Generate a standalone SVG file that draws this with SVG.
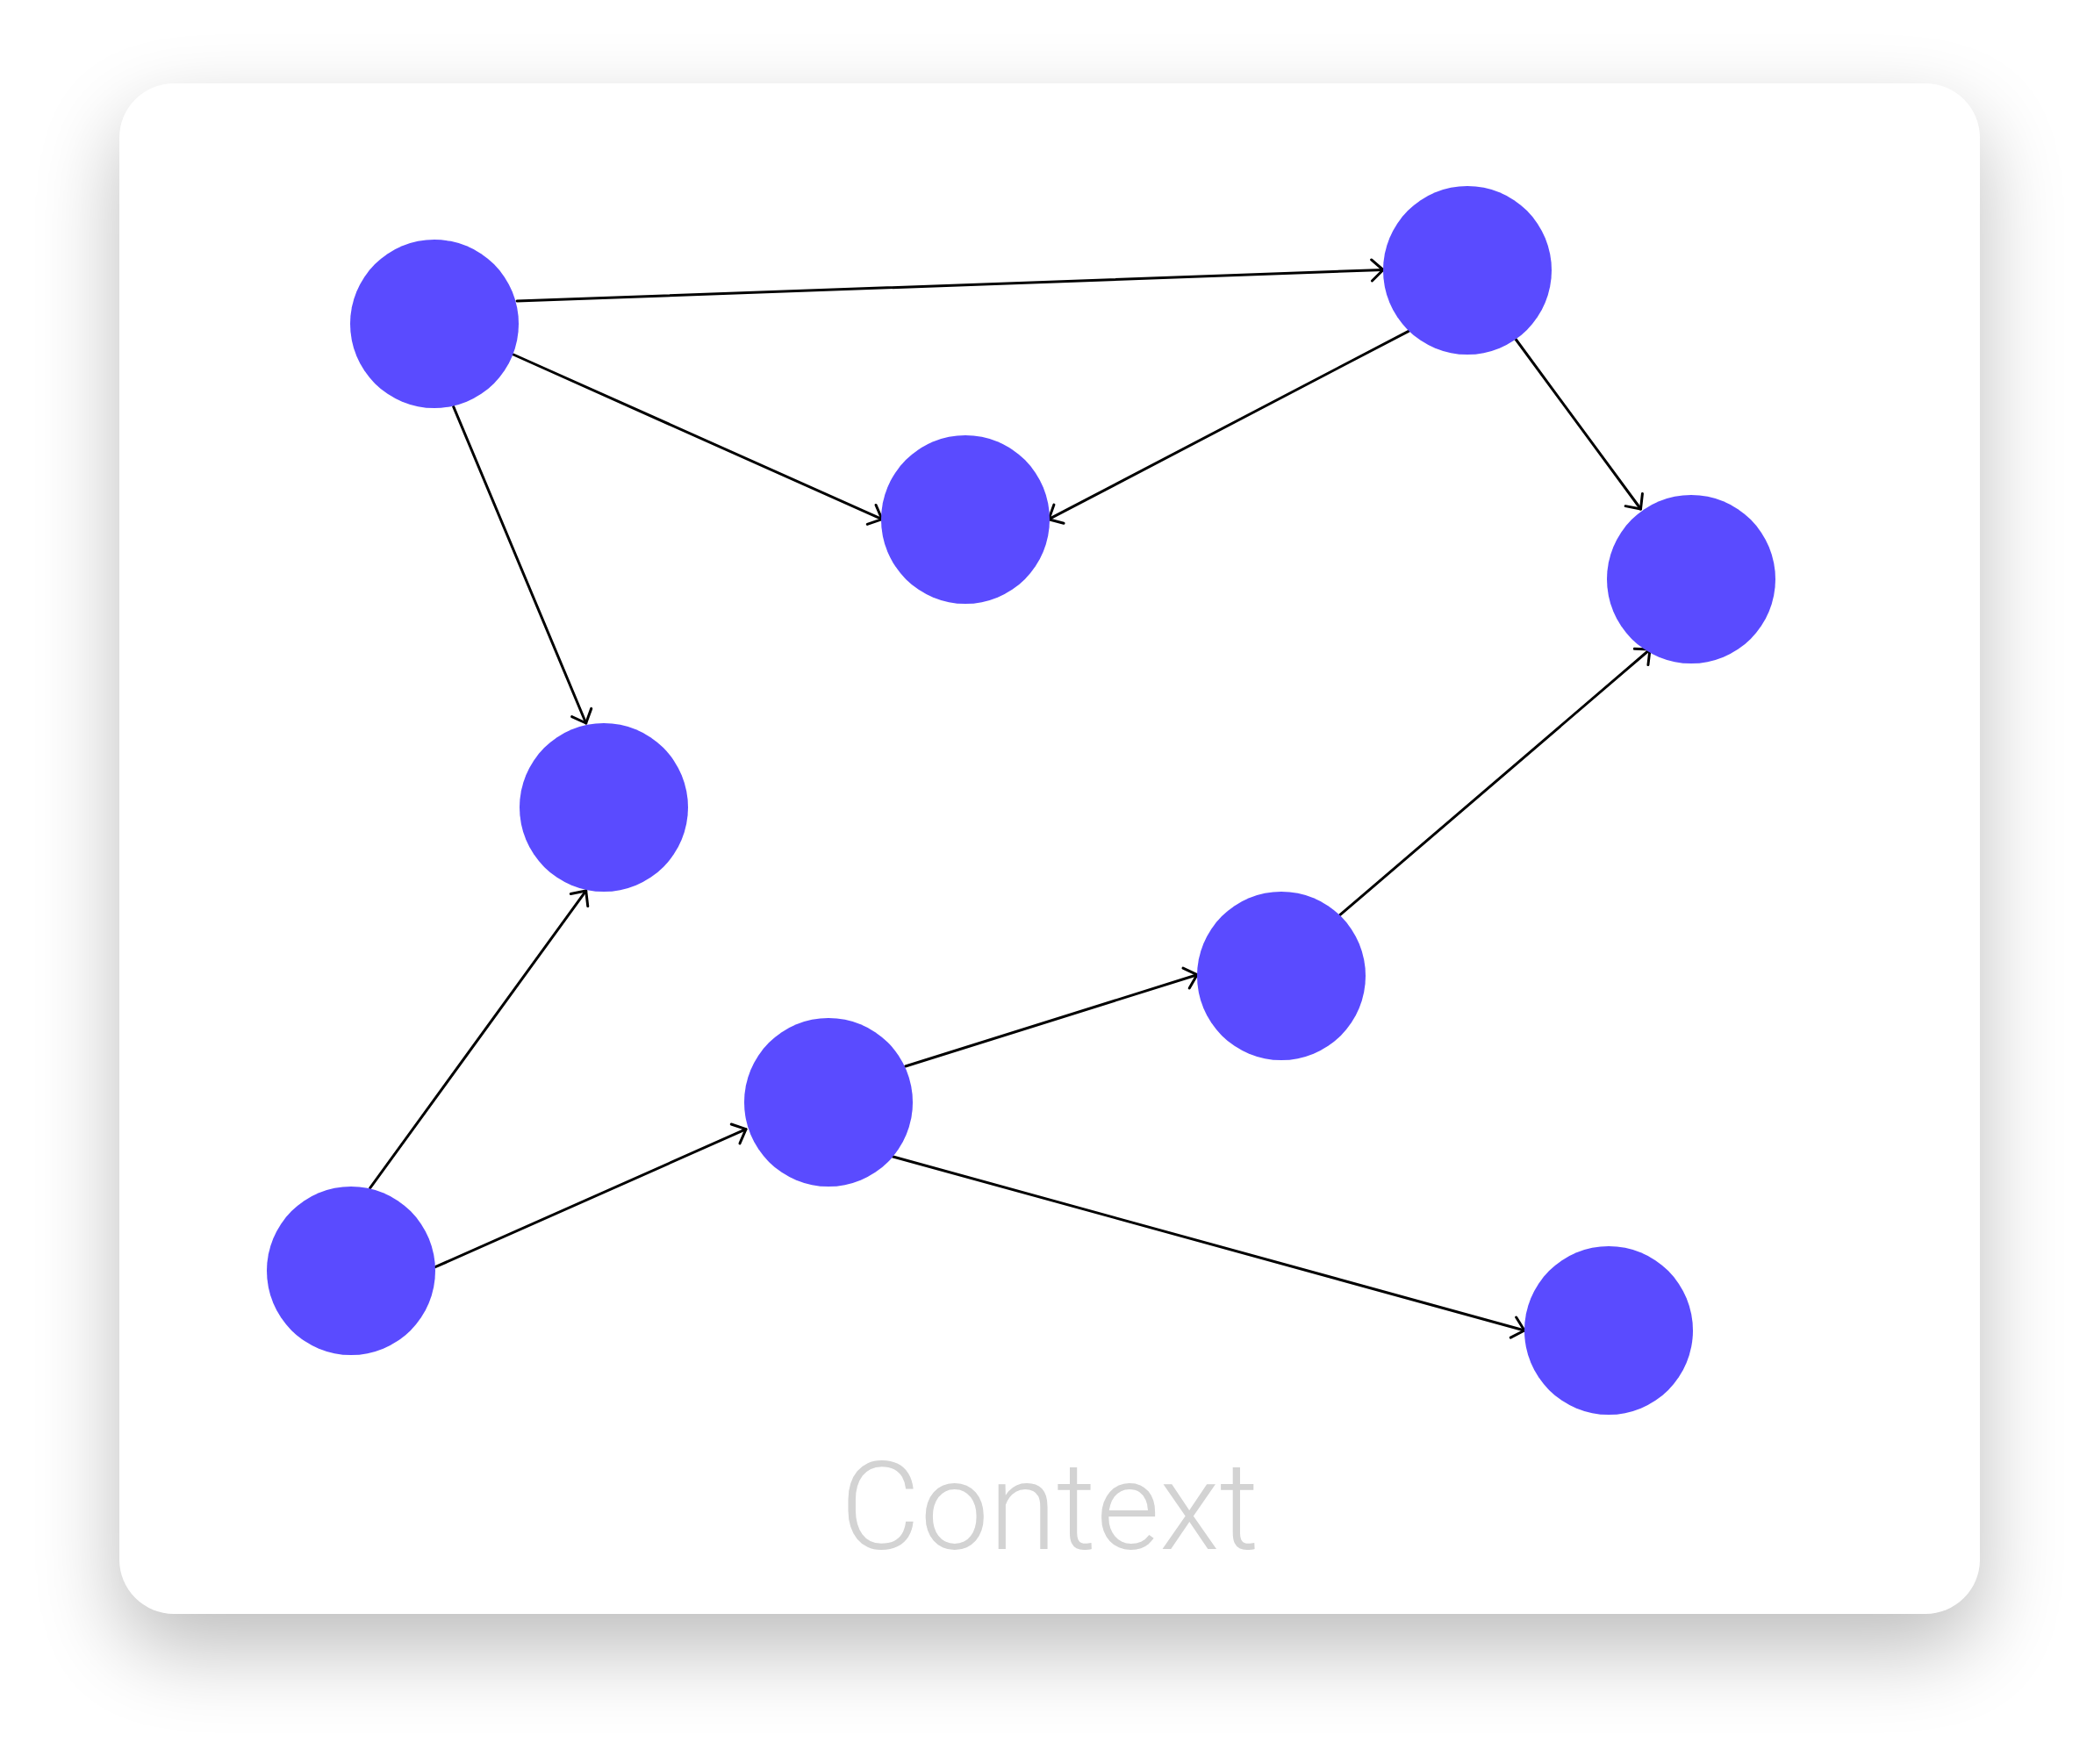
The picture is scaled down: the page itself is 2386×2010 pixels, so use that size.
<svg xmlns="http://www.w3.org/2000/svg" width="2386" height="2010" viewBox="0 0 2386 2010">
  <defs>
    <filter id="shadow" x="-20%" y="-20%" width="140%" height="140%">
      <feGaussianBlur stdDeviation="48"/>
    </filter>
    <marker id="arrow" markerUnits="userSpaceOnUse" markerWidth="40" markerHeight="40" viewBox="-20 -20 40 40" refX="0" refY="0" orient="auto">
      <path d="M-13,-12 L0,0 L-13,12" fill="none" stroke="#000" stroke-width="3" stroke-linecap="round" stroke-linejoin="round"/>
    </marker>
  </defs>
  <style>
    .node { fill: #5a4bff; }
    .edge { fill: none; stroke: #000; stroke-width: 3; stroke-linecap: round; marker-end: url(#arrow); }
    .label { font-family: Roboto, "Liberation Sans", sans-serif; font-size: 140px; font-weight: 350; fill: #d3d3d3; }
  </style>
  <rect width="2386" height="2010" fill="#ffffff"/>
  <rect x="136" y="135" width="2120" height="1744" rx="62" fill="#000" opacity="0.26" filter="url(#shadow)"/>
  <rect id="card" x="136" y="95" width="2120" height="1744" rx="62" fill="#ffffff"/>

  <g id="connectors">
    <line class="edge" x1="589" y1="343" x2="1576" y2="307.5"/>
    <line class="edge" x1="585" y1="404" x2="1005" y2="591.7"/>
    <line class="edge" x1="516.7" y1="463.3" x2="667.7" y2="824"/>
    <line class="edge" x1="1605" y1="377.3" x2="1195" y2="591.7"/>
    <line class="edge" x1="1726.7" y1="386" x2="1869.5" y2="580"/>
    <line class="edge" x1="1526.7" y1="1042.7" x2="1880" y2="740"/>
    <line class="edge" x1="421.7" y1="1353.7" x2="667.7" y2="1015"/>
    <line class="edge" x1="496" y1="1443.7" x2="850" y2="1286.7"/>
    <line class="edge" x1="1031.7" y1="1215" x2="1364" y2="1110.7"/>
    <line class="edge" x1="1016.7" y1="1317.7" x2="1737" y2="1516"/>
  </g>

  <g id="node-a"><circle class="node" cx="495" cy="369" r="96"/></g>
  <g id="node-b"><circle class="node" cx="1672" cy="308" r="96"/></g>
  <g id="node-c"><circle class="node" cx="1100" cy="592" r="96"/></g>
  <g id="node-d"><circle class="node" cx="1927" cy="660" r="96"/></g>
  <g id="node-e"><circle class="node" cx="688" cy="920" r="96"/></g>
  <g id="node-f"><circle class="node" cx="1460" cy="1112" r="96"/></g>
  <g id="node-g"><circle class="node" cx="944" cy="1256" r="96"/></g>
  <g id="node-h"><circle class="node" cx="400" cy="1448" r="96"/></g>
  <g id="node-i"><circle class="node" cx="1833" cy="1516" r="96"/></g>

  <text id="title" class="label" x="1196" y="1765" text-anchor="middle">Context</text>
</svg>
